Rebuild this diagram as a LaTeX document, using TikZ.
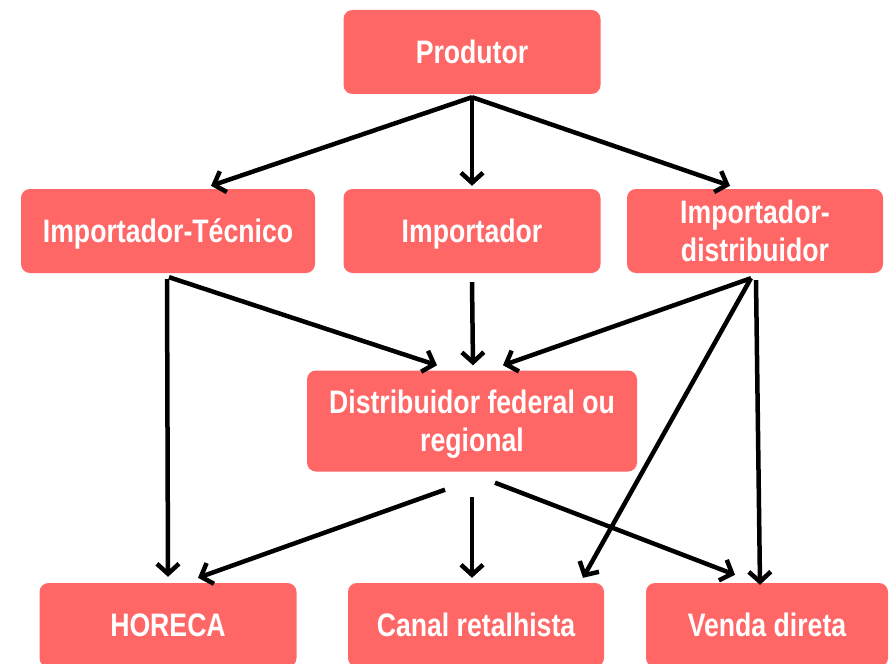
\documentclass[tikz,border=0pt]{standalone}
\usepackage{fontspec}
\setmainfont{Liberation Sans}[FakeStretch=0.82]
\usepackage{xcolor}
\usepackage{tikz}
\usetikzlibrary{arrows.meta}
\usetikzlibrary{positioning}

\definecolor{boxred}{HTML}{FF6666}

\begin{document}
\begin{tikzpicture}[x=1pt, y=1pt,
  box/.style={fill=boxred, rounded corners=9pt, text=white, align=center, text depth=0pt,
    font=\fontsize{32.5}{38}\selectfont\bfseries, minimum height=84pt, inner sep=0pt},
  link/.style={line width=4.5pt, -{Straight Barb[length=10pt, width=22pt]}}]
\useasboundingbox (0,0) rectangle (890,-663);

\node (produtor) [box, minimum width=257pt] at (472,-52) {Produtor};
\node (importador) [box, minimum width=257pt, node distance=179pt, below of=produtor] {Importador};
\node (importador tecnico) [box, minimum width=294pt, node distance=304pt, left of=importador] {Importador-Técnico};
\node (importador distribuidor) [box, minimum width=256pt, node distance=283pt, right of=importador] {Importador-\\distribuidor};
\node (distribuidor) [box, minimum width=330pt, minimum height=101pt, node distance=190pt, below of=importador] {Distribuidor federal ou\\regional};
\node (canal) [box, minimum width=256pt, node distance=204pt, below of=distribuidor, xshift=4pt] {Canal retalhista};
\node (horeca) [box, minimum width=257pt, node distance=308pt, left of=canal] {HORECA};
\node (venda) [box, minimum width=242pt, node distance=291pt, right of=canal] {Venda direta};

\draw [link] ([yshift=-3pt]produtor.south) -- ([xshift=43pt, yshift=3pt]importador tecnico.north);
\draw [link] ([yshift=-3pt]produtor.south) -- ([yshift=3pt]importador.north);
\draw [link] ([yshift=-3pt]produtor.south) -- ([xshift=-25pt, yshift=3pt]importador distribuidor.north);

\draw [link] ([xshift=-1pt, yshift=-6pt]importador tecnico.south) -- ([yshift=6pt]horeca.north);
\draw [link] ([xshift=1pt, yshift=-4pt]importador tecnico.south) -- ([xshift=-35pt, yshift=5pt]distribuidor.north);
\draw [link] ([yshift=-9pt]importador.south) -- ([xshift=1pt, yshift=5pt]distribuidor.north);
\draw [link] ([xshift=-4pt, yshift=-5pt]importador distribuidor.south) -- ([xshift=31pt, yshift=5pt]distribuidor.north);
\draw [link] ([xshift=-4pt, yshift=-5pt]importador distribuidor.south) -- ([xshift=107pt, yshift=5pt]canal.north);
\draw [link] ([xshift=1pt, yshift=-7pt]importador distribuidor.south) -- ([xshift=-7pt, yshift=-2pt]venda.north);

\draw [link] ([xshift=-27pt, yshift=-18pt]distribuidor.south) -- ([xshift=30pt, yshift=5pt]horeca.north);
\draw [link] ([yshift=-25pt]distribuidor.south) -- ([xshift=-4pt, yshift=5pt]canal.north);
\draw [link] ([xshift=23pt, yshift=-11pt]distribuidor.south) -- ([xshift=-32pt, yshift=8pt]venda.north);

\end{tikzpicture}
\end{document}
